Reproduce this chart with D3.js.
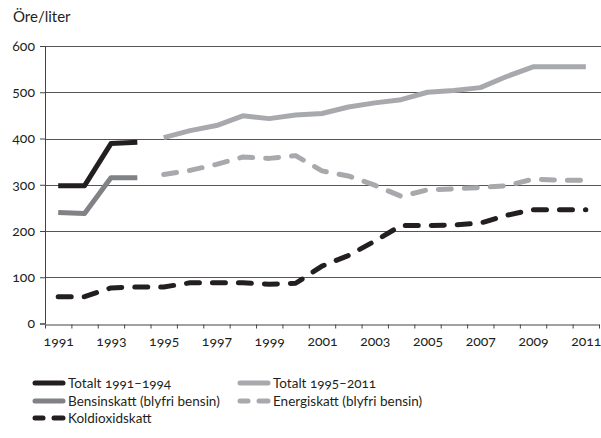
<!DOCTYPE html>
<html>
<head>
<meta charset="utf-8">
<script src="https://cdn.jsdelivr.net/npm/d3@7"></script>
<style>
  body { margin: 0; background: #fff; }
  svg text { font-family: Lato, "Noto Sans", sans-serif; font-variant-numeric: oldstyle-nums; fill: #231f20; }
</style>
</head>
<body>
<div id="chart"></div>
<script>
// years on the x axis
const years = d3.range(1991, 2012)
const yTicks = [0, 100, 200, 300, 400, 500, 600]
const xLabels = [1991, 1993, 1995, 1997, 1999, 2001, 2003, 2005, 2007, 2009, 2011]

// öre per liter, null where the series has no value
const totalt9194 = [298, 298, 389, 392, null, null, null, null, null, null, null, null, null, null, null, null, null, null, null, null, null]
const totalt9511 = [null, null, null, null, 402, 417, 428, 449, 443, 451, 454, 468, 477, 484, 500, 504, 510, 534, 555, 555, 555]
const bensinskatt = [240, 238, 315, 315, null, null, null, null, null, null, null, null, null, null, null, null, null, null, null, null, null]
const energiskatt = [null, null, null, null, 322, 331, 344, 360, 357, 363, 330, 319, 299, 275, 289, 291, 294, 298, 312, 310, 310]
const koldioxid = [58, 58, 77, 79, 79, 88, 88, 88, 85, 87, 124, 147, 178, 212, 212, 213, 217, 234, 246, 246, 246]

const series = [
   { name: "Totalt 1991–1994", values: totalt9194, color: "#231f20", dash: null },
   { name: "Totalt 1995–2011", values: totalt9511, color: "#a7a9ac", dash: null },
   { name: "Bensinskatt (blyfri bensin)", values: bensinskatt, color: "#808285", dash: null },
   { name: "Energiskatt (blyfri bensin)", values: energiskatt, color: "#a7a9ac", dash: "13 13" },
   { name: "Koldioxidskatt", values: koldioxid, color: "#231f20", dash: "13 13" }
]

const width = 601, height = 438
const margin = { top: 46, right: 2, bottom: 115, left: 45 }

const x = d3.scaleLinear()
   .domain([1990.5, 2011.5])
   .range([margin.left, width - margin.right])

const y = d3.scaleLinear()
   .domain([0, 600])
   .range([height - margin.bottom + 0.5, margin.top])

const svg = d3.select("#chart").append("svg")
   .attr("width", width)
   .attr("height", height)

// y title
svg.append("text")
   .attr("x", 13)
   .attr("y", 22)
   .attr("font-size", 15)
   .text("Öre/liter")

// grid lines
svg.append("g")
   .attr("stroke", "#555")
   .attr("stroke-width", 1)
   .selectAll("line")
   .data(yTicks.slice(1))
   .join("line")
   .attr("x1", margin.left)
   .attr("x2", width)
   .attr("y1", d => Math.round(y(d)) + 0.5)
   .attr("y2", d => Math.round(y(d)) + 0.5)

// y axis
svg.append("g")
   .attr("transform", `translate(${margin.left},0)`)
   .call(d3.axisLeft(y).tickValues(yTicks).tickSize(5).tickPadding(5))
   .call(g => g.selectAll("line, path").attr("stroke", "#444"))
   .call(g => g.selectAll("text").attr("font-size", 14).attr("fill", "#231f20").attr("font-family", null))

// x axis: ticks at the year boundaries, labels every second year
const x0 = Math.round(y(0)) + 0.5
svg.append("g")
   .attr("transform", `translate(0,${x0})`)
   .call(d3.axisBottom(x).tickValues(d3.range(1990.5, 2012, 1)).tickSize(4).tickFormat("").tickSizeOuter(0))
   .call(g => g.selectAll("line, path").attr("stroke", "#444"))

svg.append("g")
   .attr("transform", `translate(0,${x0})`)
   .call(d3.axisBottom(x).tickValues(xLabels).tickSize(0).tickPadding(12).tickFormat(d3.format("d")))
   .call(g => g.select(".domain").remove())
   .call(g => g.selectAll("text").attr("font-size", 14).attr("fill", "#231f20").attr("font-family", null))

// lines
const line = d3.line()
   .defined(d => d[1] != null)
   .x(d => x(d[0]))
   .y(d => y(d[1]))

svg.append("g")
   .attr("fill", "none")
   .selectAll("path")
   .data(series)
   .join("path")
   .attr("stroke", d => d.color)
   .attr("stroke-width", 5)
   .attr("stroke-linejoin", "round")
   .attr("stroke-linecap", d => d.dash ? "round" : "butt")
   .attr("stroke-dasharray", d => d.dash)
   .attr("d", d => line(years.map((yr, i) => [yr, d.values[i]])))

// legend
const legendPos = [
   { x: 33, y: 383 }, { x: 238, y: 383 },
   { x: 33, y: 401 }, { x: 238, y: 401 },
   { x: 33, y: 418 }
]

const legend = svg.append("g")
   .selectAll("g")
   .data(series)
   .join("g")
   .attr("transform", (d, i) => `translate(${legendPos[i].x},${legendPos[i].y})`)

legend.filter(d => !d.dash)
   .append("line")
   .attr("x1", 2).attr("x2", 30)
   .attr("stroke", d => d.color)
   .attr("stroke-width", 5)
   .attr("stroke-linecap", "round")

legend.filter(d => d.dash)
   .selectAll("line")
   .data(d => [[2, 10, d.color], [21, 30, d.color]])
   .join("line")
   .attr("x1", d => d[0]).attr("x2", d => d[1])
   .attr("stroke", d => d[2])
   .attr("stroke-width", 5)
   .attr("stroke-linecap", "round")

legend.append("text")
   .attr("x", 35)
   .attr("dy", "0.35em")
   .attr("font-size", 13.5)
   .text(d => d.name)
</script>
</body>
</html>
